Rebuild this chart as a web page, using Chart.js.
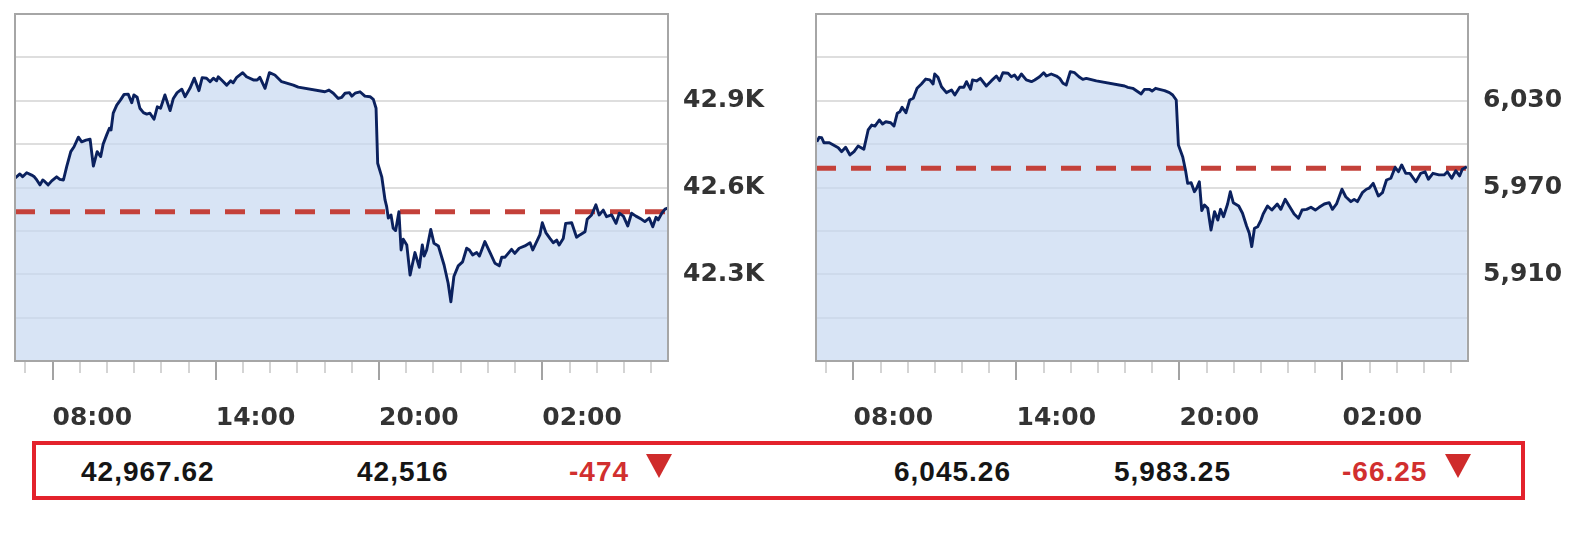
<!DOCTYPE html>
<html>
<head>
<meta charset="utf-8">
<script src="https://cdn.jsdelivr.net/npm/chart.js@4.4.1/dist/chart.umd.min.js"></script>
<style>
  body { margin: 0; background: #fff; width: 1588px; height: 541px; position: relative; overflow: hidden; }
  .wrap { position: absolute; top: 0; width: 790px; height: 435px; }
  #box { position: absolute; left: 32px; top: 441px; width: 1493px; height: 59px; box-sizing: border-box; border: 4px solid #e3222c; }
  .num { position: absolute; top: 458px; font: bold 28px "Liberation Sans", Arial, sans-serif; line-height: 28px; letter-spacing: 1px; color: #151515; white-space: nowrap; }
  .neg { color: #d12f2f; }
  .tri { position: absolute; top: 454px; width: 0; height: 0; border-left: 13px solid transparent; border-right: 13px solid transparent; border-top: 24px solid #cf2b2b; }
</style>
</head>
<body>
<div class="wrap" style="left:0"><canvas id="left"></canvas></div>
<div class="wrap" style="left:801px"><canvas id="right"></canvas></div>
<div id="box"></div>

<script>
// time axis (hours since midnight of the first day), 06:37 -> 06:37 next day
var timeMin = 6.62, timeMax = 30.62;
var hourTicks = [7,8,9,10,11,12,13,14,15,16,17,18,19,20,21,22,23,24,25,26,27,28,29,30];
var labelHours = [8, 14, 20, 26];

// left chart (Dow futures)
var leftTimes = [6.63,6.80,6.90,7.05,7.23,7.33,7.42,7.54,7.64,7.72,
  7.84,7.97,8.15,8.27,8.40,8.52,8.67,8.79,8.95,9.07,
  9.23,9.38,9.50,9.64,9.77,9.86,9.99,10.09,10.15,10.23,
  10.36,10.50,10.63,10.78,10.91,10.99,11.11,11.21,11.34,11.46,
  11.58,11.73,11.85,11.97,12.13,12.32,12.44,12.58,12.75,12.87,
  13.05,13.21,13.38,13.50,13.66,13.79,13.91,14.03,14.09,14.25,
  14.40,14.55,14.64,14.77,14.99,15.13,15.38,15.52,15.62,15.81,
  15.97,16.17,16.42,16.85,17.03,18.01,18.16,18.32,18.50,18.63,
  18.75,18.91,19.00,19.12,19.30,19.48,19.67,19.79,19.89,19.95,
  20.10,20.22,20.28,20.34,20.44,20.52,20.61,20.73,20.81,20.89,
  21.02,21.14,21.32,21.48,21.59,21.66,21.75,21.90,22.02,22.18,
  22.39,22.54,22.64,22.75,22.91,23.07,23.22,23.32,23.44,23.59,
  23.69,23.89,24.08,24.26,24.42,24.51,24.63,24.87,24.99,25.15,
  25.36,25.55,25.65,25.91,26.00,26.13,26.28,26.40,26.53,26.62,
  26.77,26.86,27.08,27.26,27.38,27.57,27.65,27.81,27.97,28.09,
  28.24,28.36,28.55,28.71,28.83,28.98,29.14,29.28,29.44,29.65,
  29.77,29.93,30.06,30.18,30.26,30.39,30.51,30.61];
var leftValues = [42633,42647,42637,42651,42643,42637,42626,42609,42626,42620,
  42609,42623,42637,42628,42626,42672,42724,42741,42774,42758,
  42764,42767,42674,42724,42707,42750,42782,42805,42799,42857,
  42885,42903,42922,42923,42893,42920,42912,42874,42859,42854,
  42857,42836,42879,42874,42920,42866,42908,42928,42940,42914,
  42943,42978,42935,42980,42978,42966,42978,42969,42983,42968,
  42954,42969,42962,42981,42997,42983,42972,42972,42981,42943,
  42997,42989,42966,42954,42947,42931,42937,42926,42908,42912,
  42926,42928,42916,42926,42931,42916,42914,42905,42874,42684,
  42637,42557,42534,42494,42505,42459,42451,42516,42384,42421,
  42401,42297,42375,42324,42401,42363,42384,42455,42407,42398,
  42332,42269,42205,42292,42329,42343,42390,42384,42367,42375,
  42363,42413,42375,42338,42329,42359,42359,42386,42372,42390,
  42398,42409,42384,42436,42478,42444,42424,42409,42418,42401,
  42424,42476,42478,42428,42436,42447,42490,42505,42540,42505,
  42522,42499,42505,42476,42511,42501,42467,42511,42501,42490,
  42482,42494,42464,42497,42488,42511,42525,42529];
var leftRef = 42516;
var leftYMin = 42000, leftYMax = 43200, leftYStep = 150;
var leftTickLabels = [42300, 42600, 42900];

// right chart (S&P futures)
var rightTimes = [6.65,6.74,6.83,6.91,7.11,7.26,7.44,7.56,7.71,7.87,
  8.02,8.17,8.38,8.54,8.67,8.79,8.95,9.07,9.19,9.37,
  9.49,9.61,9.71,9.79,9.93,10.07,10.20,10.34,10.50,10.66,
  10.81,10.93,10.99,11.11,11.24,11.42,11.61,11.73,11.91,12.06,
  12.16,12.31,12.38,12.53,12.67,12.89,13.08,13.26,13.38,13.50,
  13.69,13.81,13.93,14.05,14.18,14.36,14.55,14.67,14.85,15.00,
  15.10,15.28,15.47,15.59,15.71,15.83,15.98,16.14,16.30,16.44,
  16.57,16.94,17.98,18.10,18.28,18.59,18.71,18.89,18.99,19.12,
  19.26,19.45,19.63,19.75,19.88,19.96,20.12,20.22,20.30,20.43,
  20.55,20.63,20.73,20.82,20.92,21.04,21.16,21.29,21.41,21.51,
  21.62,21.77,21.87,21.98,22.18,22.32,22.47,22.57,22.66,22.76,
  22.88,23.00,23.08,23.24,23.40,23.60,23.73,23.89,24.04,24.22,
  24.38,24.51,24.68,24.84,25.00,25.14,25.33,25.51,25.63,25.78,
  25.98,26.12,26.31,26.43,26.55,26.73,26.88,26.98,27.13,27.32,
  27.47,27.62,27.78,27.94,28.06,28.18,28.33,28.48,28.70,28.88,
  29.04,29.16,29.33,29.55,29.74,29.86,30.02,30.17,30.31,30.41,
  30.58];
var rightValues = [6001.7,6004.7,6004.4,6001.0,6001.0,5999.4,5997.5,5994.8,5997.8,5992.5,
  5994.8,5998.7,5996.4,6009.8,6013.2,6012.5,6016.7,6013.9,6015.5,6014.8,
  6012.5,6021.3,6022.4,6025.5,6021.7,6030.5,6031.7,6038.6,6041.6,6045.0,
  6044.4,6041.6,6048.5,6046.2,6039.7,6035.6,6037.4,6034.0,6039.3,6039.3,
  6043.2,6037.9,6044.4,6043.7,6045.5,6040.2,6043.9,6047.1,6043.9,6049.4,
  6049.0,6046.6,6047.8,6044.8,6048.5,6044.4,6043.2,6044.4,6046.6,6049.4,
  6047.1,6048.5,6047.1,6045.5,6042.1,6040.9,6050.1,6049.4,6046.6,6044.8,
  6045.5,6043.7,6040.2,6039.3,6038.6,6034.7,6037.9,6037.9,6036.7,6038.6,
  6037.9,6037.0,6035.6,6034.0,6030.5,5999.4,5991.1,5982.1,5972.9,5973.3,
  5967.1,5969.5,5974.0,5954.0,5957.9,5955.6,5940.6,5953.3,5947.5,5954.9,
  5949.8,5958.6,5967.1,5959.5,5957.2,5952.2,5943.4,5938.3,5929.1,5941.8,
  5942.9,5947.5,5951.7,5957.2,5954.4,5958.6,5954.9,5961.8,5957.2,5951.7,
  5948.7,5954.4,5954.9,5956.3,5954.4,5956.3,5958.6,5959.5,5954.9,5958.6,
  5968.8,5963.6,5960.2,5961.8,5960.2,5966.4,5968.8,5969.5,5972.9,5964.1,
  5966.4,5975.2,5976.4,5984.0,5980.9,5985.6,5979.8,5979.8,5974.0,5979.8,
  5980.9,5975.7,5979.8,5978.7,5978.7,5980.9,5976.4,5981.6,5978.0,5982.6,
  5984.4];
var rightRef = 5983.25;
var rightYMin = 5850, rightYMax = 6090, rightYStep = 30;
var rightTickLabels = [5910, 5970, 6030];

// summary row under the charts
var summaryTexts = ['42,967.62', '42,516', '-474', '6,045.26', '5,983.25', '-66.25'];
var summaryLeft = [81, 357, 569, 894, 1114, 1342];
var summaryNeg = [false, false, true, false, false, true];
var arrowLeft = [646, 1445];

Chart.defaults.font.family = '"DejaVu Sans", sans-serif';
Chart.defaults.font.weight = 'bold';
Chart.defaults.color = '#333';

// border round the plot and the hour tick marks under it
var frame = {
    id: 'frame',
    afterDraw: function(chart) {
        var ctx = chart.ctx, a = chart.chartArea, x = chart.scales.x;
        ctx.save();
        ctx.lineWidth = 2;
        hourTicks.forEach(function(h) {
            var px = Math.round(x.getPixelForValue(h));
            var major = labelHours.indexOf(h) >= 0;
            ctx.strokeStyle = major ? '#a3a3a3' : '#d4d4d4';
            ctx.beginPath();
            ctx.moveTo(px, a.bottom);
            ctx.lineTo(px, a.bottom + (major ? 19 : 12));
            ctx.stroke();
        });
        ctx.strokeStyle = '#a6a6a6';
        ctx.strokeRect(a.left, a.top, a.right - a.left, a.bottom - a.top);
        ctx.restore();
    }
};

// no extra room for half labels at the ends of an axis
function noEdgePadding(s) {
    s.paddingLeft = 0;
    s.paddingRight = 0;
    s.paddingTop = 0;
    s.paddingBottom = 0;
}

function makeChart(id, times, values, ref, yMin, yMax, yStep, tickLabels, fmt, yWidth) {
    var points = times.map(function(t, i) { return {x: t, y: values[i]}; });
    return new Chart(document.getElementById(id), {
        type: 'line',
        data: {
            datasets: [{
                data: points,
                borderColor: '#0b215e',
                borderWidth: 2.9,
                borderJoinStyle: 'round',
                backgroundColor: 'rgba(200, 217, 241, 0.7)',
                fill: 'start',
                pointRadius: 0,
                tension: 0
            }, {
                data: [{x: timeMin, y: ref}, {x: timeMax, y: ref}],
                borderColor: '#c4413a',
                borderWidth: 5,
                borderDash: [20, 15],
                fill: false,
                pointRadius: 0
            }]
        },
        options: {
            responsive: true,
            maintainAspectRatio: false,
            animation: false,
            layout: {
                autoPadding: false,
                padding: {left: 15, top: 14, right: 0, bottom: 0}
            },
            plugins: {
                legend: {display: false},
                tooltip: {enabled: false},
                filler: {drawTime: 'beforeDatasetsDraw'}
            },
            scales: {
                x: {
                    type: 'linear',
                    min: timeMin,
                    max: timeMax,
                    afterBuildTicks: function(s) {
                        s.ticks = hourTicks.map(function(h) { return {value: h}; });
                    },
                    afterFit: function(s) { s.height = 74; noEdgePadding(s); },
                    grid: {display: false, drawTicks: false},
                    border: {display: false},
                    ticks: {
                        autoSkip: false,
                        maxRotation: 0,
                        align: 'start',
                        padding: 42,
                        font: {size: 25, weight: 'bold'},
                        color: '#333',
                        callback: function(v) {
                            if (labelHours.indexOf(v) < 0) return '';
                            var h = v % 24;
                            return (h < 10 ? '0' : '') + h + ':00';
                        }
                    }
                },
                y: {
                    position: 'right',
                    min: yMin,
                    max: yMax,
                    afterFit: function(s) { s.width = yWidth; noEdgePadding(s); },
                    grid: {color: '#dedede', lineWidth: 2, drawTicks: false},
                    border: {display: false},
                    ticks: {
                        stepSize: yStep,
                        padding: 15,
                        font: {size: 25, weight: 'bold'},
                        color: '#333',
                        callback: function(v) {
                            return tickLabels.indexOf(v) >= 0 ? fmt(v) : '';
                        }
                    }
                }
            }
        },
        plugins: [frame]
    });
}

makeChart('left', leftTimes, leftValues, leftRef, leftYMin, leftYMax, leftYStep, leftTickLabels,
    function(v) { return (v / 1000).toFixed(1) + 'K'; }, 122);
makeChart('right', rightTimes, rightValues, rightRef, rightYMin, rightYMax, rightYStep, rightTickLabels,
    function(v) { return v.toLocaleString('en-US'); }, 123);

// summary row
summaryTexts.forEach(function(t, i) {
    var d = document.createElement('div');
    d.className = 'num' + (summaryNeg[i] ? ' neg' : '');
    d.style.left = summaryLeft[i] + 'px';
    d.textContent = t;
    document.body.appendChild(d);
});
arrowLeft.forEach(function(x) {
    var d = document.createElement('div');
    d.className = 'tri';
    d.style.left = x + 'px';
    document.body.appendChild(d);
});
</script>
</body>
</html>
